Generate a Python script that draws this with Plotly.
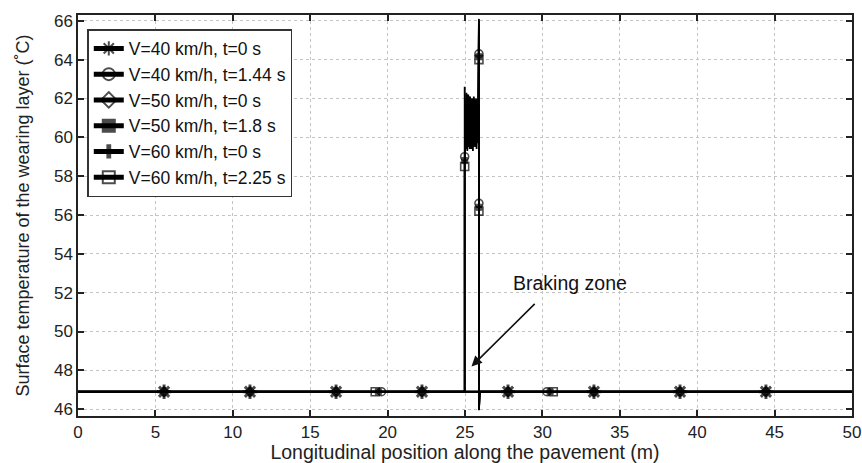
import plotly.graph_objects as go

# ---------------- data ----------------
base_temp = 46.9
x_start, x_end = 0.0, 50.0

# t = 0 series: uniform initial temperature, markers every 50/9 m
t0_marker_x = [5.56, 11.11, 16.67, 22.22, 27.78, 33.33, 38.89, 44.44]

# heated series (after braking): positions and temperatures
# V=40 km/h, t=1.44 s  (open circles)
v40_x = [0.0, 19.6, 24.98, 24.98, 24.98, 25.06, 25.12, 25.18, 25.24, 25.30, 25.36, 25.42, 25.48,
         25.54, 25.60, 25.66, 25.72, 25.78, 25.84, 25.90, 25.90, 25.90, 25.90, 25.96, 30.3, 50.0]
v40_y = [46.9, 46.9, 46.9, 59.0, 62.6, 59.6, 62.1, 59.5, 62.0, 59.4, 61.9, 59.5, 62.0,
         59.6, 61.8, 59.5, 62.0, 59.7, 61.6, 66.1, 64.3, 56.6, 45.95, 46.9, 46.9, 46.9]
v40_mk = [0, 1, 0, 1, 0, 0, 0, 0, 0, 0, 0, 0, 0, 0, 0, 0, 0, 0, 0, 0, 1, 1, 0, 0, 1, 0]

# V=50 km/h, t=1.8 s  (filled squares)
v50_x = [0.0, 19.4, 24.98, 24.98, 25.03, 25.09, 25.15, 25.21, 25.27, 25.33, 25.39, 25.45, 25.51,
         25.57, 25.63, 25.69, 25.75, 25.81, 25.87, 25.90, 25.90, 25.90, 25.90, 25.96, 30.5, 50.0]
v50_y = [46.9, 46.9, 46.9, 58.8, 61.0, 62.3, 59.3, 62.2, 59.5, 62.1, 59.4, 62.0, 59.3,
         62.1, 59.6, 61.9, 59.4, 61.8, 60.2, 65.8, 64.15, 56.4, 46.0, 46.9, 46.9, 46.9]
v50_mk = [0, 1, 0, 1, 0, 0, 0, 0, 0, 0, 0, 0, 0, 0, 0, 0, 0, 0, 0, 0, 1, 1, 0, 0, 1, 0]

# V=60 km/h, t=2.25 s  (open squares)
v60_x = [0.0, 19.2, 24.98, 24.98, 25.02, 25.08, 25.14, 25.20, 25.26, 25.32, 25.38, 25.44, 25.50,
         25.56, 25.62, 25.68, 25.74, 25.80, 25.86, 25.90, 25.90, 25.90, 25.90, 25.96, 30.7, 50.0]
v60_y = [46.9, 46.9, 46.9, 58.5, 60.8, 59.4, 62.2, 59.6, 62.1, 59.5, 62.0, 59.4, 61.9,
         59.5, 62.0, 59.6, 61.9, 59.8, 61.2, 66.0, 64.0, 56.2, 45.98, 46.9, 46.9, 46.9]
v60_mk = [0, 1, 0, 1, 0, 0, 0, 0, 0, 0, 0, 0, 0, 0, 0, 0, 0, 0, 0, 0, 1, 1, 0, 0, 1, 0]

series_names = ["V=40 km/h, t=0 s", "V=40 km/h, t=1.44 s", "V=50 km/h, t=0 s",
                "V=50 km/h, t=1.8 s", "V=60 km/h, t=0 s", "V=60 km/h, t=2.25 s"]

x_ticks = [0, 5, 10, 15, 20, 25, 30, 35, 40, 45, 50]
y_ticks = [46, 48, 50, 52, 54, 56, 58, 60, 62, 64, 66]

# ---------------- figure ----------------
FONT = "Liberation Sans, Arial, sans-serif"
fig = go.Figure()


def t0_trace(name, symbol, size, lw):
    xs = [x_start] + t0_marker_x + [x_end]
    ys = [base_temp] * len(xs)
    sizes = [0] + [size] * len(t0_marker_x) + [0]
    return go.Scatter(x=xs, y=ys, name=name, mode="lines+markers",
                      line=dict(color="black", width=2),
                      marker=dict(symbol=symbol, size=sizes, color="black",
                                  line=dict(color="black", width=lw)))


def heated_trace(name, xs, ys, mk, symbol, size, lw):
    sizes = [size if m else 0 for m in mk]
    return go.Scatter(x=xs, y=ys, name=name, mode="lines+markers",
                      line=dict(color="black", width=1.8),
                      marker=dict(symbol=symbol, size=sizes, color="black",
                                  line=dict(color="black", width=lw)))


fig.add_trace(t0_trace(series_names[0], "asterisk-open", 12, 3))
fig.add_trace(heated_trace(series_names[1], v40_x, v40_y, v40_mk, "circle-open", 8, 1.6))
fig.add_trace(t0_trace(series_names[2], "diamond-open", 7, 2.2))
fig.add_trace(heated_trace(series_names[3], v50_x, v50_y, v50_mk, "square", 6, 1))
fig.add_trace(t0_trace(series_names[4], "cross", 8, 0))
fig.add_trace(heated_trace(series_names[5], v60_x, v60_y, v60_mk, "square-open", 8, 1.6))

fig.add_annotation(x=25.42, y=48.2, ax=29.6, ay=51.5, xref="x", yref="y",
                   axref="x", ayref="y", text="", showarrow=True,
                   arrowhead=2, arrowsize=1.3, arrowwidth=1.6, arrowcolor="#111")
fig.add_annotation(x=31.8, y=52.5, xref="x", yref="y", text="Braking zone",
                   showarrow=False, font=dict(family=FONT, size=19.5, color="#111"))

axis_common = dict(showline=True, linecolor="#222", linewidth=1.5, mirror="ticks",
                   ticks="inside", ticklen=6, tickwidth=1.5, tickcolor="#222",
                   showgrid=True, gridcolor="#c4c4c4", griddash="dot", gridwidth=1,
                   zeroline=False, automargin=False, ticklabeloverflow="allow",
                   tickfont=dict(family=FONT, size=17, color="#222"))

fig.update_xaxes(range=[0, 50], tickvals=x_ticks,
                 title=dict(text="Longitudinal position along the pavement (m)",
                            font=dict(family=FONT, size=19.5, color="#222"), standoff=2),
                 **axis_common)
fig.update_yaxes(range=[45.65, 66.3], tickvals=y_ticks,
                 title=dict(text="Surface temperature of the wearing layer (˚C)",
                            font=dict(family=FONT, size=18, color="#222"), standoff=20),
                 **axis_common)

fig.update_layout(
    width=862, height=463,
    margin=dict(l=78, r=10, t=15, b=47),
    paper_bgcolor="white", plot_bgcolor="white",
    showlegend=True,
    legend=dict(x=0.012, y=0.965, xanchor="left", yanchor="top",
                bgcolor="white", bordercolor="#333", borderwidth=1.5,
                font=dict(family=FONT, size=17.5, color="#111"),
                itemsizing="constant", tracegroupgap=0),
    font=dict(family=FONT),
)

fig.write_html("out.html",
               config={"displayModeBar": False},
               post_script="document.body.style.margin='0';"
                           "document.body.style.overflow='hidden';")
